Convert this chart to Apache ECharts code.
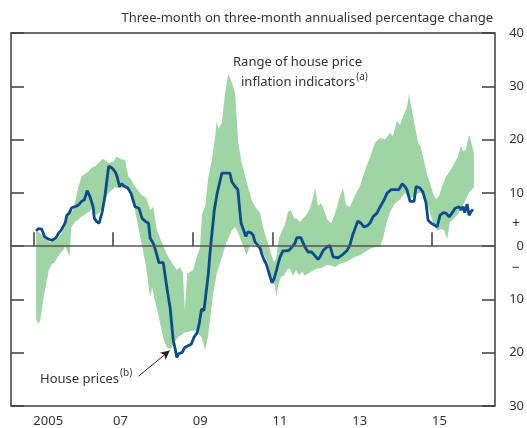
<!DOCTYPE html>
<html>
<head>
<meta charset="utf-8">
<script src="https://cdn.jsdelivr.net/npm/echarts@6/dist/echarts.min.js"></script>
<style>
html,body{margin:0;padding:0;background:#fff;}
#chart{width:527px;height:428px;}
</style>
</head>
<body>
<div id="chart"></div>
<script>
// ---- Data (decimal years, percent) ----
const xTickYears = [2005, 2007, 2009, 2011, 2013, 2015];
const xTickLabels = ['2005', '07', '09', '11', '13', '15'];
const yTickValues = [-30, -20, -10, 0, 10, 20, 30, 40];

const blueYears = [2005.07,2005.13,2005.21,2005.28,2005.38,2005.48,2005.57,2005.63,2005.71,2005.80,2005.84,2005.90,2005.96,2006.05,2006.13,2006.21,2006.28,2006.35,2006.42,2006.50,2006.53,2006.59,2006.65,2006.73,2006.80,2006.89,2006.97,2007.05,2007.10,2007.16,2007.22,2007.27,2007.37,2007.45,2007.55,2007.65,2007.73,2007.82,2007.89,2007.93,2008.01,2008.05,2008.10,2008.15,2008.26,2008.30,2008.36,2008.43,2008.47,2008.51,2008.55,2008.60,2008.64,2008.68,2008.73,2008.80,2008.88,2008.96,2009.03,2009.11,2009.16,2009.22,2009.28,2009.33,2009.39,2009.43,2009.48,2009.54,2009.61,2009.67,2009.73,2009.83,2009.93,2009.98,2010.06,2010.13,2010.16,2010.21,2010.26,2010.33,2010.38,2010.46,2010.51,2010.56,2010.61,2010.69,2010.74,2010.79,2010.84,2010.89,2010.94,2010.99,2011.04,2011.09,2011.14,2011.19,2011.26,2011.34,2011.41,2011.46,2011.51,2011.56,2011.61,2011.71,2011.76,2011.81,2011.89,2011.98,2012.04,2012.14,2012.19,2012.27,2012.37,2012.44,2012.52,2012.64,2012.74,2012.87,2012.94,2013.01,2013.07,2013.14,2013.22,2013.29,2013.37,2013.45,2013.52,2013.62,2013.70,2013.80,2013.87,2013.97,2014.10,2014.17,2014.25,2014.32,2014.37,2014.45,2014.55,2014.60,2014.70,2014.77,2014.85,2014.90,2014.98,2015.05,2015.13,2015.20,2015.28,2015.35,2015.43,2015.50,2015.58,2015.63,2015.68,2015.73,2015.78,2015.82,2015.88,2015.93,2015.98,2016.03];
const blueValues = [2.9,3.3,3.2,1.8,1.3,1.1,1.6,2.4,3.1,4.4,5.8,6.2,7.2,7.4,7.7,8.4,8.7,10.4,9.3,7.4,5.2,4.6,4.3,6.5,9.6,15.0,14.7,14.0,13.1,11.2,11.7,11.3,10.9,9.9,7.4,7.1,5.2,4.6,4.3,1.5,0.5,-0.4,-1.7,-3.1,-3.1,-5.2,-8.3,-11.5,-14.6,-17.7,-19.0,-20.9,-20.2,-19.9,-20.0,-19.0,-18.7,-18.4,-17.1,-16.2,-14.6,-11.8,-12.1,-8.9,-5.2,-1.4,2.4,6.8,9.9,11.8,13.7,13.7,13.7,12.1,11.2,10.6,8.1,4.3,3.3,1.8,2.7,2.5,2.1,0.8,0.5,-0.4,-1.7,-2.6,-3.3,-4.5,-5.8,-6.9,-6.1,-4.8,-3.3,-2.0,-0.9,-0.9,-0.8,-0.4,-0.6,0.5,1.6,1.6,0.7,-0.1,-1.1,-1.1,-1.6,-2.5,-2.0,-0.8,-0.1,0.1,-2.0,-2.2,-1.7,-0.8,0.2,2.1,3.3,4.7,4.3,3.6,3.8,4.4,5.5,6.2,7.4,8.7,9.9,10.6,10.6,10.6,11.7,11.2,10.6,8.4,8.4,11.2,10.9,10.2,8.1,4.9,4.3,4.0,3.6,5.8,6.3,6.2,5.5,6.2,7.1,7.2,7.4,6.8,7.4,6.3,7.9,5.8,6.5,6.9];

const upperYears = [2005.07,2005.17,2005.29,2005.42,2005.54,2005.67,2005.77,2005.87,2006.00,2006.13,2006.21,2006.38,2006.46,2006.55,2006.63,2006.76,2006.88,2007.01,2007.09,2007.22,2007.30,2007.38,2007.45,2007.55,2007.72,2007.84,2007.93,2008.01,2008.10,2008.22,2008.35,2008.43,2008.60,2008.68,2008.75,2008.80,2008.86,2009.01,2009.10,2009.18,2009.23,2009.31,2009.39,2009.48,2009.56,2009.60,2009.64,2009.73,2009.81,2009.89,2009.98,2010.06,2010.14,2010.23,2010.35,2010.48,2010.56,2010.69,2010.76,2010.86,2010.96,2011.04,2011.09,2011.16,2011.24,2011.31,2011.39,2011.46,2011.54,2011.61,2011.69,2011.76,2011.84,2011.92,2011.99,2012.07,2012.14,2012.22,2012.29,2012.37,2012.47,2012.57,2012.69,2012.77,2012.84,2012.94,2013.02,2013.09,2013.19,2013.32,2013.45,2013.57,2013.70,2013.82,2013.95,2014.02,2014.12,2014.20,2014.30,2014.37,2014.42,2014.50,2014.57,2014.65,2014.72,2014.80,2014.87,2014.95,2015.03,2015.10,2015.18,2015.25,2015.35,2015.45,2015.55,2015.65,2015.73,2015.78,2015.85,2015.93,2015.98,2016.03,2016.05];
const upperValues = [3.0,2.4,1.4,0.7,1.0,2.0,3.2,6.0,6.8,11.2,13.1,14.0,14.7,15.0,15.6,16.4,15.6,15.9,16.8,16.2,16.2,13.1,12.5,11.2,9.6,9.0,6.8,7.4,3.0,0.8,-1.5,-2.6,-4.5,-3.9,-5.0,-12.0,-5.2,-4.5,-2.0,-0.4,6.0,7.4,13.0,16.2,20.5,23.5,22.0,23.2,28.8,32.3,30.7,28.8,19.4,15.5,12.0,8.7,7.4,6.2,3.6,1.1,-1.4,-3.0,-2.3,1.5,3.0,4.0,6.5,6.8,5.2,5.2,4.5,5.2,5.8,6.8,8.4,10.9,7.5,8.1,6.8,5.0,4.3,6.2,9.3,10.9,7.7,7.4,8.7,9.9,11.2,14.3,16.8,19.4,20.3,20.0,21.3,20.6,23.5,22.8,24.8,26.0,28.5,25.3,22.5,19.5,18.5,16.0,13.5,11.8,9.8,8.8,9.5,11.2,13.0,14.1,15.4,16.8,18.9,17.8,18.1,20.9,19.7,18.1,17.5];

const lowerYears = [2005.07,2005.11,2005.17,2005.22,2005.29,2005.34,2005.39,2005.47,2005.54,2005.59,2005.67,2005.74,2005.80,2005.85,2005.91,2005.95,2006.05,2006.12,2006.20,2006.27,2006.35,2006.42,2006.50,2006.57,2006.65,2006.72,2006.80,2006.85,2006.92,2007.05,2007.17,2007.30,2007.38,2007.45,2007.51,2007.58,2007.68,2007.75,2007.83,2007.88,2007.93,2007.98,2008.05,2008.13,2008.20,2008.28,2008.35,2008.45,2008.55,2008.63,2008.80,2009.06,2009.22,2009.31,2009.38,2009.43,2009.51,2009.60,2009.73,2009.85,2009.98,2010.06,2010.14,2010.27,2010.35,2010.44,2010.51,2010.59,2010.66,2010.74,2010.81,2010.89,2010.94,2010.99,2011.06,2011.10,2011.14,2011.21,2011.29,2011.36,2011.44,2011.51,2011.59,2011.66,2011.74,2011.81,2011.89,2011.97,2012.04,2012.12,2012.19,2012.27,2012.34,2012.44,2012.57,2012.69,2012.82,2012.94,2013.07,2013.19,2013.32,2013.45,2013.57,2013.70,2013.77,2013.85,2013.95,2014.07,2014.20,2014.32,2014.45,2014.57,2014.70,2014.82,2014.90,2015.00,2015.08,2015.15,2015.23,2015.30,2015.38,2015.45,2015.55,2015.65,2015.75,2015.85,2015.95,2016.05];
const lowerValues = [-13.5,-14.6,-14.0,-11.5,-8.3,-6.4,-4.5,-3.3,-3.0,-2.3,-1.4,-0.8,0.0,-0.8,-2.0,3.5,4.6,4.9,5.5,5.8,6.2,6.5,7.4,5.8,6.2,6.8,8.5,9.6,10.2,11.0,10.9,11.0,10.6,9.5,8.7,5.5,1.8,-0.8,-3.9,-7.0,-9.6,-7.7,-10.2,-12.7,-15.2,-17.7,-19.0,-19.3,-18.0,-17.1,-16.2,-15.8,-17.1,-19.6,-17.0,-14.0,-8.9,-5.2,-2.0,0.8,3.0,3.6,2.4,-0.1,-1.7,0.2,0.2,0.5,0.2,-1.1,-2.0,-3.3,-5.2,-6.1,-7.4,-9.6,-7.4,-5.8,-5.5,-4.5,-4.2,-5.6,-4.5,-5.5,-4.8,-5.5,-5.2,-4.8,-4.5,-4.2,-4.2,-3.9,-3.6,-3.6,-3.9,-3.3,-3.0,-2.6,-2.0,-1.7,-1.1,-0.5,-0.2,0.0,1.5,4.0,6.5,8.0,8.8,10.0,9.0,9.5,10.0,9.5,7.4,5.0,3.5,2.9,3.2,3.0,1.3,4.5,5.2,6.0,7.2,8.8,10.3,11.0];

// arrow annotation (data coordinates): tail near label, head at trough
const arrowTail = [2007.64, -24.4];
const arrowHead = [2008.42, -19.6];

// ---- Chart ----
const FONT = '"Noto Sans", sans-serif';
const TXT = '#333333';
const AXC = '#3d3d3d';
const GREEN = '#9fd4a4';
const BLUE = '#0a4c8c';

const measureCtx = document.createElement('canvas').getContext('2d');
function textW(t, size) { measureCtx.font = size + 'px ' + FONT; return measureCtx.measureText(t).width; }

const bluePts = blueYears.map((x, i) => [x, blueValues[i]]);
const upperPts = upperYears.map((x, i) => [x, upperValues[i]]);
const lowerPts = lowerYears.map((x, i) => [x, lowerValues[i]]);

const chart = echarts.init(document.getElementById('chart'), null, { renderer: 'canvas' });

const housePricesW = textW('House prices', 13);
const inflW = textW('inflation indicators', 13);

const option = {
  animation: false,
  backgroundColor: '#ffffff',
  textStyle: { fontFamily: FONT },
  grid: { left: 11, right: 32, top: 33, bottom: 21, show: true, borderColor: AXC, borderWidth: 1.5, backgroundColor: 'transparent' },
  xAxis: {
    type: 'value', min: 2004.44, max: 2016.58,
    axisLine: { show: false },
    splitLine: { show: false },
    axisTick: { show: true, inside: true, length: 14, customValues: xTickYears, lineStyle: { color: AXC, width: 1.5 } },
    axisLabel: {
      customValues: xTickYears, align: 'left', margin: 9,
      fontSize: 13, color: TXT, fontFamily: FONT,
      formatter: v => xTickLabels[xTickYears.indexOf(Math.round(v))] || ''
    }
  },
  yAxis: [
    {
      type: 'value', position: 'right', min: -30, max: 40, interval: 10,
      axisLine: { show: false }, splitLine: { show: false },
      axisTick: { show: true, inside: true, length: 13, lineStyle: { color: AXC, width: 1.5 } },
      axisLabel: {
        showMinLabel: true, showMaxLabel: true, align: 'right', margin: 29,
        fontSize: 13, color: TXT, fontFamily: FONT,
        formatter: v => v === 0 ? '{pm|+}\n{z|0}\n{pm|−}' : '{n|' + Math.abs(v) + '}',
        rich: {
          n: { fontSize: 13, color: TXT, fontFamily: FONT },
          z: { fontSize: 13, color: TXT, fontFamily: FONT, lineHeight: 22 },
          pm: { fontSize: 14, color: TXT, fontFamily: FONT, lineHeight: 22, padding: [0, 4, 0, 0] }
        }
      }
    },
    {
      type: 'value', position: 'left', min: -30, max: 40, interval: 10,
      axisLine: { show: false }, splitLine: { show: false },
      axisTick: { show: true, inside: true, length: 13, lineStyle: { color: AXC, width: 1.5 } },
      axisLabel: { show: false }
    }
  ],
  series: [
    {
      name: 'Range', type: 'custom', coordinateSystem: 'cartesian2d', z: 1, silent: true,
      data: [[2010, 0]],
      renderItem: (params, api) => {
        const pts = upperPts.map(p => api.coord(p)).concat(lowerPts.slice().reverse().map(p => api.coord(p)));
        return { type: 'polygon', shape: { points: pts }, style: { fill: GREEN, stroke: null } };
      }
    },
    {
      name: 'guides', type: 'line', data: [], z: 2, silent: true,
      markLine: {
        silent: true, symbol: ['none', 'none'], animation: false,
        label: { show: false },
        data: [
          { yAxis: 0, lineStyle: { color: '#555555', width: 1.5, type: 'solid' } },
          [
            { coord: arrowTail, symbol: 'none', lineStyle: { color: '#222222', width: 1, type: 'solid' } },
            { coord: arrowHead, symbol: 'arrow', symbolSize: [7, 9] }
          ]
        ]
      }
    },
    {
      name: 'House prices', type: 'line', data: bluePts, z: 3, showSymbol: false, smooth: false,
      lineStyle: { color: BLUE, width: 2.8 }, silent: true
    }
  ],
  graphic: [
    { type: 'text', x: 493, y: 18, style: { text: 'Three-month on three-month annualised percentage change', font: '13px ' + FONT, fill: TXT, align: 'right', verticalAlign: 'middle' } },
    { type: 'text', x: 233, y: 62, style: { text: 'Range of house price', font: '13px ' + FONT, fill: TXT, align: 'left', verticalAlign: 'middle' } },
    { type: 'text', x: 241, y: 82, style: { text: 'inflation indicators', font: '13px ' + FONT, fill: TXT, align: 'left', verticalAlign: 'middle' } },
    { type: 'text', x: 241 + inflW + 1, y: 77, style: { text: '(a)', font: '10px ' + FONT, fill: TXT, align: 'left', verticalAlign: 'middle' } },
    { type: 'text', x: 40, y: 379, style: { text: 'House prices', font: '13px ' + FONT, fill: TXT, align: 'left', verticalAlign: 'middle' } },
    { type: 'text', x: 40 + housePricesW + 1, y: 373, style: { text: '(b)', font: '10px ' + FONT, fill: TXT, align: 'left', verticalAlign: 'middle' } }
  ]
};
chart.setOption(option);
</script>
</body>
</html>
